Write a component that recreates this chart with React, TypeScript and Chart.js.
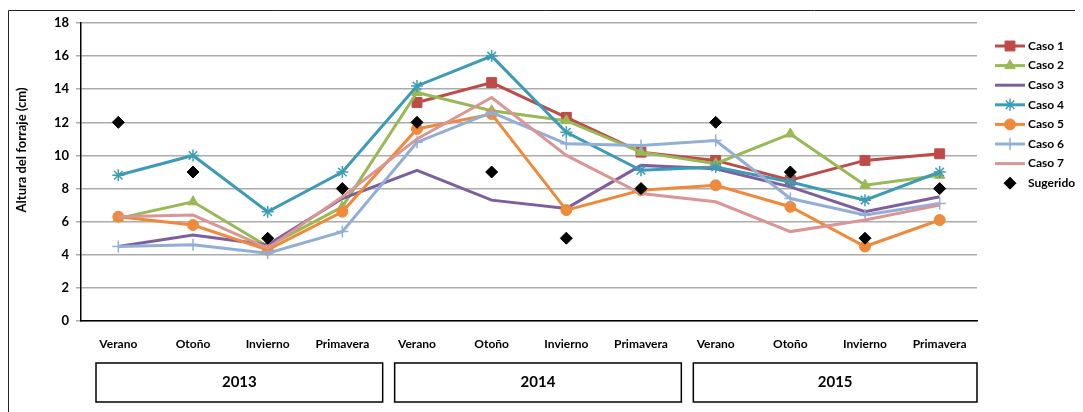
import React, { useEffect, useRef } from 'react';
import { Chart, registerables } from 'chart.js';
import { drawPoint } from 'chart.js/helpers';

Chart.register(...registerables);

const seasons = ['Verano', 'Otoño', 'Invierno', 'Primavera'];
const years = ['2013', '2014', '2015'];
const categories = [...seasons, ...seasons, ...seasons];

const caso1 = [null, null, null, null, 13.2, 14.4, 12.3, 10.2, 9.7, 8.5, 9.7, 10.1];
const caso2 = [6.2, 7.2, 4.5, 6.9, 13.8, 12.7, 12.1, 10.2, 9.5, 11.3, 8.2, 8.8];
const caso3 = [4.5, 5.2, 4.6, 7.4, 9.1, 7.3, 6.8, 9.4, 9.2, 8.1, 6.6, 7.5];
const caso4 = [8.8, 10.0, 6.6, 9.0, 14.2, 16.0, 11.4, 9.1, 9.3, 8.4, 7.3, 9.0];
const caso5 = [6.3, 5.8, 4.3, 6.6, 11.6, 12.5, 6.7, 7.9, 8.2, 6.9, 4.5, 6.1];
const caso6 = [4.5, 4.6, 4.1, 5.4, 10.8, 12.6, 10.7, 10.6, 10.9, 7.4, 6.4, 7.1];
const caso7 = [6.3, 6.4, 4.4, 7.5, 11.0, 13.5, 10.0, 7.7, 7.2, 5.4, 6.1, 7.0];
const sugerido = [12, 9, 5, 8, 12, 9, 5, 8, 12, 9, 5, 8];

const yTitle = 'Altura del forraje (cm)';
const FONT = 'Lato, "Open Sans", sans-serif';

function lineSet(label: string, data: (number | null)[], color: string, style: any, radius: number, order: number, bw = 1) {
  return {
    label,
    data,
    borderColor: color,
    backgroundColor: color,
    pointBackgroundColor: color,
    pointBorderColor: color,
    pointStyle: style,
    pointRadius: radius,
    pointHoverRadius: radius,
    pointBorderWidth: bw,
    borderWidth: 3,
    tension: 0,
    order,
  };
}

const decorPlugin = {
  id: 'decor',
  afterDraw(chart: any) {
    const ctx = chart.ctx;
    const xs = chart.scales.x;
    const area = chart.chartArea;
    ctx.save();
    // outer frame (top + left)
    ctx.strokeStyle = '#222';
    ctx.lineWidth = 1;
    ctx.beginPath();
    ctx.moveTo(0.5, chart.height);
    ctx.lineTo(0.5, 2.5);
    ctx.lineTo(chart.width, 2.5);
    ctx.stroke();

    // year boxes
    const catW = (xs.right - xs.left) / categories.length;
    ctx.lineWidth = 1.5;
    ctx.strokeStyle = '#000';
    ctx.fillStyle = '#000';
    ctx.font = `bold 15px ${FONT}`;
    ctx.textAlign = 'center';
    ctx.textBaseline = 'middle';
    years.forEach((yr, i) => {
      const l = xs.left + i * 4 * catW + 15;
      const r = Math.min(xs.left + (i + 1) * 4 * catW + 3, xs.right);
      const top = 355, bot = 394;
      ctx.strokeRect(l, top, r - l, bot - top);
      ctx.fillText(yr, (l + r) / 2, (top + bot) / 2);
    });

    // y title
    ctx.save();
    ctx.translate(14, 142);
    ctx.rotate(-Math.PI / 2);
    ctx.font = `bold 13px ${FONT}`;
    ctx.fillText(yTitle, 0, 0);
    ctx.restore();

    // legend
    const x0 = area.right + 18;
    let y = 38;
    chart.data.datasets.forEach((ds: any) => {
      if (ds.showLine !== false) {
        ctx.strokeStyle = ds.borderColor;
        ctx.lineWidth = 3;
        ctx.beginPath();
        ctx.moveTo(x0, y);
        ctx.lineTo(x0 + 30, y);
        ctx.stroke();
      }
      if (ds.pointRadius > 0) {
        ctx.fillStyle = ds.pointBackgroundColor;
        ctx.strokeStyle = ds.pointBorderColor;
        ctx.lineWidth = ds.pointBorderWidth;
        drawPoint(ctx, { pointStyle: ds.pointStyle, radius: ds.pointRadius, borderWidth: ds.pointBorderWidth, rotation: 0 }, x0 + 15, y);
      }
      ctx.fillStyle = '#000';
      ctx.font = `bold 12px ${FONT}`;
      ctx.textAlign = 'left';
      ctx.textBaseline = 'middle';
      ctx.fillText(ds.label, x0 + 33, y);
      y += 19.6;
    });
    ctx.restore();
  },
};

export default function App() {
  const ref = useRef<HTMLCanvasElement>(null);
  useEffect(() => {
    if (!ref.current) return;
    const chart = new Chart(ref.current, {
      type: 'line',
      data: {
        labels: categories,
        datasets: [
          lineSet('Caso 1', caso1, '#BE4B48', 'rect', 7, 7),
          lineSet('Caso 2', caso2, '#98B954', 'triangle', 6, 6),
          lineSet('Caso 3', caso3, '#7D5FA0', 'circle', 0, 5),
          lineSet('Caso 4', caso4, '#3D9CB5', 'star', 6, 4, 1.5),
          lineSet('Caso 5', caso5, '#EE8A3C', 'circle', 5.5, 3),
          lineSet('Caso 6', caso6, '#93AED6', 'cross', 6, 2, 1.5),
          lineSet('Caso 7', caso7, '#D99694', 'line', 0, 1, 2),
          {
            label: 'Sugerido',
            data: sugerido,
            showLine: false,
            borderColor: '#000',
            backgroundColor: '#000',
            pointBackgroundColor: '#000',
            pointBorderColor: '#000',
            pointStyle: 'rectRot',
            pointRadius: 6,
            pointHoverRadius: 6,
            pointBorderWidth: 1,
            order: 0,
          },
        ] as any,
      },
      options: {
        responsive: false,
        animation: false,
        devicePixelRatio: 1,
        layout: { padding: { left: 0, right: 106, top: 15, bottom: 0 } },
        plugins: { legend: { display: false }, tooltip: { enabled: false } },
        scales: {
          x: {
            type: 'category',
            offset: true,
            grid: { display: true, color: 'rgba(0,0,0,0)', drawTicks: false },
            border: { display: true, color: '#000', width: 1.5 },
            ticks: { font: { family: FONT, weight: 'bold', size: 12 }, color: '#000', padding: 16, maxRotation: 0, autoSkip: false },
            afterFit: (s: any) => { s.height = 91; },
          },
          y: {
            min: 0,
            max: 18,
            ticks: { stepSize: 2, font: { family: FONT, weight: 'bold', size: 13 }, color: '#000', padding: 7 },
            grid: { color: '#ABABAB', lineWidth: 1.5, tickLength: 5, drawTicks: true },
            border: { display: true, color: '#000', width: 1.5 },
            afterFit: (s: any) => { s.width = 73; },
          },
        },
      } as any,
      plugins: [decorPlugin],
    });
    return () => chart.destroy();
  }, []);
  return <canvas ref={ref} width={1075} height={404} style={{ display: 'block', width: 1075, height: 404 }} />;
}
